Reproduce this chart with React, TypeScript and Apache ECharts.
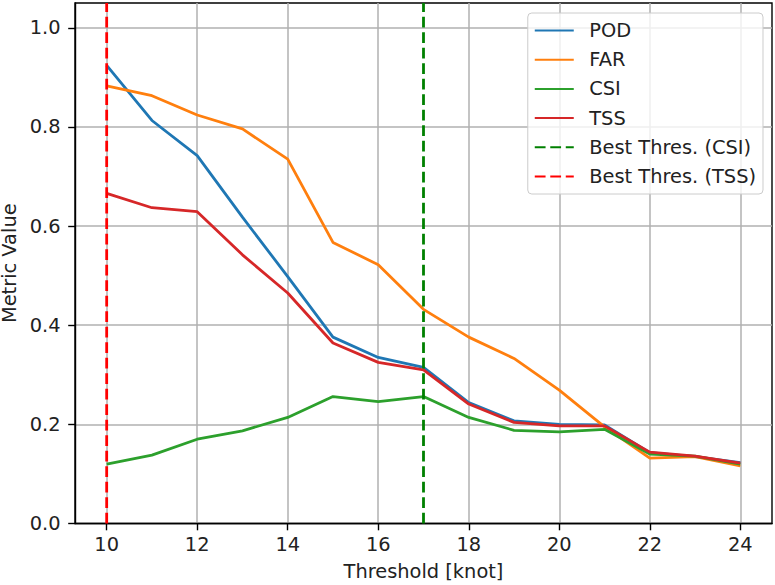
import React, { useEffect, useRef } from "react";
import * as echarts from "echarts";

const thresholds = [10, 11, 12, 13, 14, 15, 16, 17, 18, 19, 20, 21, 22, 23, 24];
const pod = [0.924, 0.813, 0.742, 0.618, 0.498, 0.376, 0.335, 0.315, 0.244, 0.207, 0.2, 0.199, 0.143, 0.135, 0.123];
const far = [0.883, 0.863, 0.824, 0.796, 0.735, 0.567, 0.522, 0.432, 0.376, 0.333, 0.269, 0.195, 0.132, 0.135, 0.116];
const csi = [0.12, 0.138, 0.17, 0.187, 0.214, 0.256, 0.246, 0.256, 0.214, 0.188, 0.185, 0.19, 0.14, 0.136, 0.12];
const tss = [0.666, 0.637, 0.629, 0.542, 0.465, 0.364, 0.325, 0.31, 0.241, 0.204, 0.197, 0.197, 0.144, 0.136, 0.122];
const bestCsi = 17;
const bestTss = 10;
const xTicks = [10, 12, 14, 16, 18, 20, 22, 24];
const yTicks = [0, 0.2, 0.4, 0.6, 0.8, 1.0];
const xMin = 9.3;
const xMax = 24.7;
const yMin = 0;
const yMax = 1.05;

const FONT = "DejaVu Sans";
const FS = 19.4;
const LW = 2.8;

export default function App() {
  const ref = useRef<HTMLDivElement>(null);
  useEffect(() => {
    if (!ref.current) return;
    const chart = echarts.init(ref.current, undefined, { renderer: "svg" });
    const pair = (vals: number[]) => thresholds.map((t, i) => [t, vals[i]]);
    const lineSeries = (name: string, vals: number[], color: string, z: number) => ({
      name,
      type: "line",
      data: pair(vals),
      symbol: "none",
      showSymbol: false,
      lineStyle: { color, width: LW },
      itemStyle: { color },
      z,
    });
    const vSeries = (name: string, x: number, color: string, z: number) => ({
      name,
      type: "line",
      data: [
        [x, yMin],
        [x, yMax],
      ],
      symbol: "none",
      showSymbol: false,
      lineStyle: { color, width: LW, type: [10.8, 4.7] },
      itemStyle: { color },
      z,
    });
    chart.setOption({
      animation: false,
      textStyle: { fontFamily: FONT },
      grid: {
        left: 75,
        right: 3,
        top: 3,
        bottom: 61.5,
        show: true,
        borderColor: "#000",
        borderWidth: 1.4,
        backgroundColor: "transparent",
        outerBoundsMode: "none",
        containLabel: false,
      },
      legend: {
        orient: "vertical",
        right: 12,
        top: 13,
        itemWidth: 39,
        itemHeight: 20,
        itemGap: 10.2,
        padding: [8, 7, 8, 6],
        backgroundColor: "rgba(255,255,255,0.8)",
        borderColor: "#cccccc",
        borderWidth: 1,
        borderRadius: 4,
        itemStyle: { opacity: 0, borderWidth: 0 },
        textStyle: { fontFamily: FONT, fontSize: FS, color: "#222", padding: [0, 0, 0, 10.5] },
        data: ["POD", "FAR", "CSI", "TSS", "Best Thres. (CSI)", "Best Thres. (TSS)"],
      },
      xAxis: {
        type: "value",
        min: xMin,
        max: xMax,
        name: "Threshold [knot]",
        nameLocation: "middle",
        nameGap: 38.5,
        nameTextStyle: { fontFamily: FONT, fontSize: FS, color: "#222" },
        axisLine: { show: true, onZero: false, lineStyle: { color: "#000", width: 1.4 } },
        axisTick: { show: true, length: 6.8, customValues: xTicks, lineStyle: { color: "#000", width: 1.4 } },
        axisLabel: {
          customValues: xTicks,
          margin: 11,
          fontFamily: FONT,
          fontSize: FS,
          color: "#222",
          formatter: (v: number) => String(v),
        },
        splitLine: { show: true, lineStyle: { color: "#b0b0b0", width: 1.5 } },
      },
      yAxis: {
        type: "value",
        min: yMin,
        max: yMax,
        name: "Metric Value",
        nameLocation: "middle",
        nameGap: 57.5,
        nameTextStyle: { fontFamily: FONT, fontSize: FS, lineHeight: 14, color: "#222" },
        axisLine: { show: true, onZero: false, lineStyle: { color: "#000", width: 1.4 } },
        axisTick: { show: true, length: 6.8, customValues: yTicks, lineStyle: { color: "#000", width: 1.4 } },
        axisLabel: {
          customValues: yTicks,
          margin: 14.5,
          fontFamily: FONT,
          fontSize: FS,
          color: "#222",
          formatter: (v: number) => v.toFixed(1),
        },
        splitLine: { show: true, lineStyle: { color: "#b0b0b0", width: 1.5 } },
      },
      series: [
        lineSeries("POD", pod, "#1f77b4", 2),
        lineSeries("FAR", far, "#ff7f0e", 3),
        lineSeries("CSI", csi, "#2ca02c", 4),
        lineSeries("TSS", tss, "#d62728", 5),
        vSeries("Best Thres. (CSI)", bestCsi, "#008000", 6),
        vSeries("Best Thres. (TSS)", bestTss, "#ff0000", 7),
      ],
    });
    return () => chart.dispose();
  }, []);
  return <div ref={ref} style={{ width: 775, height: 585, position: "absolute", left: 0, top: 0 }} />;
}
